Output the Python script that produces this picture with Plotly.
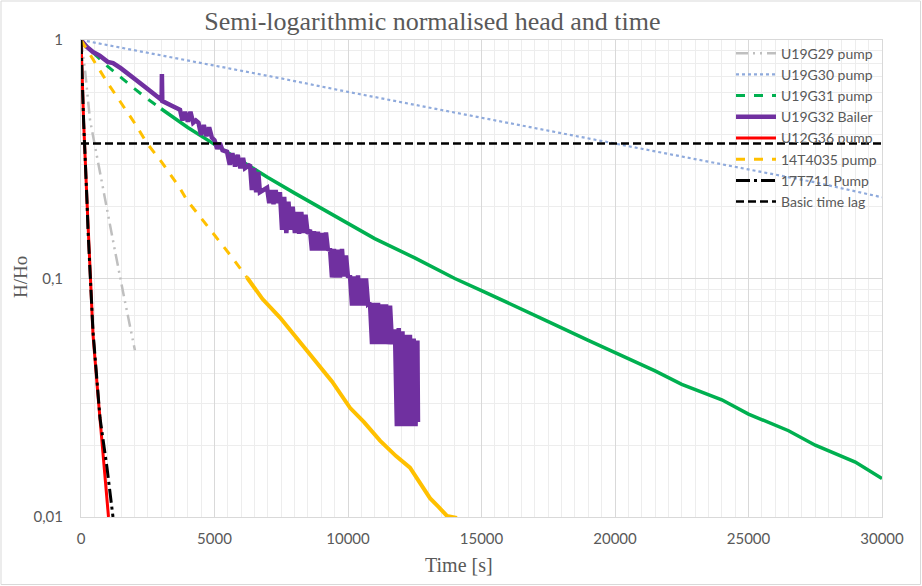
import plotly.graph_objects as go

# ---------------- data ----------------
g29_t = [0, 150, 340, 710, 1000, 1270, 1600, 2020]
g29_v = [1.0, 0.75, 0.46, 0.276, 0.19, 0.131, 0.085, 0.05]

g30_t = [0, 2500, 5000, 7500, 10000, 12500, 15000, 17500, 20000, 22500, 25000, 27500, 30000]
g30_v = [1.0, 0.885, 0.782, 0.69, 0.606, 0.535, 0.472, 0.418, 0.368, 0.325, 0.287, 0.253, 0.219]

g31_t_a = [0, 500, 1000, 1500, 2000, 2500, 3000]
g31_v_a = [1.0, 0.875, 0.775, 0.695, 0.625, 0.565, 0.515]
g31_t_b = [3000, 4000, 5000, 6000, 7000, 8000, 9000, 10000, 11000, 12500, 14000, 15000,
           16500, 17500, 19000, 20000, 21500, 22500, 24000, 25000, 26500, 27500, 29000, 30000]
g31_v_b = [0.515, 0.43, 0.365, 0.31, 0.265, 0.228, 0.197, 0.17, 0.147, 0.122, 0.1, 0.089,
           0.074, 0.066, 0.055, 0.049, 0.041, 0.036, 0.031, 0.027, 0.023, 0.02, 0.017, 0.0145]

g32_t = [0, 200, 449, 700, 1000, 1200, 1500, 1800, 2100, 2400, 2700, 2958, 3020, 3030, 3045,
         3400, 3708, 3800, 3900, 4000, 4100, 4200, 4300, 4400, 4500, 4600, 4700, 4800, 4900,
         5000, 5100, 5200, 5300, 5470, 5570, 5670, 5770, 5870, 5970, 6070, 6140,
         6330, 6400, 6480, 6560, 6640, 6700, 6970, 7050, 7130, 7210, 7290, 7370, 7450,
         7530, 7610, 7690, 7770, 7850, 7930, 8010, 8090, 8170, 8250, 8330, 8410, 8490, 8576,
         8650, 8725, 8800, 8875, 8950, 9025, 9100, 9175, 9250, 9325,
         9400, 9475, 9550, 9625, 9700, 9775, 9850, 9925, 10000, 10075,
         10150, 10225, 10300, 10375, 10450, 10525, 10600, 10675, 10750, 10824,
         10900, 10975, 11050, 11125, 11200, 11275, 11350, 11425, 11500, 11575, 11650, 11685,
         11760, 11830, 11900, 11970, 12040, 12110, 12180, 12250, 12320, 12390, 12460, 12530,
         12600, 12621]
g32_v = [1.0, 0.94, 0.89, 0.86, 0.81, 0.80, 0.76, 0.72, 0.675, 0.635, 0.60, 0.565, 0.56, 0.72, 0.555,
         0.53, 0.51, 0.46, 0.50, 0.455, 0.50, 0.45, 0.46, 0.45, 0.40, 0.44, 0.395, 0.43, 0.39,
         0.38, 0.35, 0.37, 0.345, 0.34, 0.30, 0.335, 0.295, 0.33, 0.29, 0.32, 0.29,
         0.30, 0.235, 0.29, 0.23, 0.28, 0.23, 0.24, 0.207, 0.235, 0.205, 0.235, 0.207, 0.23,
         0.16, 0.22, 0.155, 0.21, 0.16, 0.20, 0.155, 0.19, 0.154, 0.19, 0.155, 0.185, 0.154, 0.16,
         0.131, 0.158, 0.131, 0.157, 0.131, 0.155, 0.131, 0.156, 0.131, 0.134,
         0.101, 0.133, 0.101, 0.132, 0.101, 0.133, 0.102, 0.125, 0.101, 0.103,
         0.077, 0.102, 0.077, 0.103, 0.077, 0.100, 0.077, 0.100, 0.078, 0.079,
         0.053, 0.079, 0.053, 0.079, 0.053, 0.078, 0.053, 0.078, 0.053, 0.077, 0.053, 0.060,
         0.060, 0.024, 0.062, 0.024, 0.060, 0.024, 0.058, 0.024, 0.058, 0.024, 0.056, 0.024,
         0.055, 0.025]

g36_t = [0, 100, 225, 340, 450, 640, 810, 1010, 1030]
g36_v = [1.0, 0.45, 0.21, 0.11, 0.058, 0.032, 0.019, 0.0105, 0.01]

t4035_t_a = [0, 225, 1000, 2000, 2472, 3000, 3708, 3970, 4944, 5600, 6217]
t4035_v_a = [1.0, 0.908, 0.66, 0.45, 0.369, 0.31, 0.239, 0.213, 0.155, 0.125, 0.101]
t4035_t_b = [6217, 6800, 7453, 8100, 8689, 9400, 10075, 10600, 11198, 11800, 12321, 12700,
             13070, 13400, 13707, 14081]
t4035_v_b = [0.101, 0.082, 0.0686, 0.056, 0.0466, 0.037, 0.0287, 0.025, 0.0209, 0.018,
             0.0161, 0.0138, 0.012, 0.011, 0.0101, 0.0099]

t711_t = [0, 100, 225, 262, 449, 712, 974, 1198]
t711_v = [1.0, 0.45, 0.21, 0.16, 0.06, 0.026, 0.0161, 0.01]

lag_t = [0, 30000]
lag_v = [0.368, 0.368]

x_ticks = [0, 5000, 10000, 15000, 20000, 25000, 30000]
y_ticks = [1, 0.1, 0.01]
y_tick_text = ["1", "0,1", "0,01"]

# ---------------- figure ----------------
fig = go.Figure()

fig.add_trace(go.Scatter(x=g29_t, y=g29_v, mode="lines", name="U19G29 pump",
                         line=dict(color="#bfbfbf", width=2.5, dash="12px,5px,2px,5px,2px,5px")))
fig.add_trace(go.Scatter(x=g30_t, y=g30_v, mode="lines", name="U19G30 pump",
                         line=dict(color="#8faadc", width=2.2, dash="dot")))
fig.add_trace(go.Scatter(x=g31_t_a, y=g31_v_a, mode="lines", name="U19G31 pump",
                         legendgroup="g31", line=dict(color="#00b050", width=3, dash="dash")))
fig.add_trace(go.Scatter(x=g31_t_b, y=g31_v_b, mode="lines", name="U19G31 pump",
                         legendgroup="g31", showlegend=False,
                         line=dict(color="#00b050", width=3.5)))
fig.add_trace(go.Scatter(x=g32_t, y=g32_v, mode="lines", name="U19G32 Bailer",
                         line=dict(color="#7030a0", width=4.5)))
fig.add_trace(go.Scatter(x=g36_t, y=g36_v, mode="lines", name="U12G36 pump",
                         line=dict(color="#ff0000", width=3)))
fig.add_trace(go.Scatter(x=t4035_t_a, y=t4035_v_a, mode="lines", name="14T4035 pump",
                         legendgroup="t4035", line=dict(color="#ffc000", width=3, dash="dash")))
fig.add_trace(go.Scatter(x=t4035_t_b, y=t4035_v_b, mode="lines", name="14T4035 pump",
                         legendgroup="t4035", showlegend=False,
                         line=dict(color="#ffc000", width=4)))
fig.add_trace(go.Scatter(x=t711_t, y=t711_v, mode="lines", name="17T711 Pump",
                         line=dict(color="#000000", width=3, dash="14px,4px,3px,4px")))
fig.add_trace(go.Scatter(x=lag_t, y=lag_v, mode="lines", name="Basic time lag",
                         line=dict(color="#000000", width=2.5, dash="8px,4px")))

grid_major = "#d9d9d9"
grid_minor = "#ededed"
tick_font = dict(family="Lato, Liberation Sans, sans-serif", size=15, color="#595959")

fig.update_layout(
    width=922, height=586,
    margin=dict(l=81, r=40, t=40, b=69),
    paper_bgcolor="white", plot_bgcolor="white",
    title=dict(text="Semi-logarithmic normalised head and time",
               font=dict(family="Liberation Serif, Times New Roman, serif", size=26, color="#595959"),
               x=0.469, xref="container", xanchor="center", y=0.965, yref="container", yanchor="middle"),
    showlegend=True,
    legend=dict(x=1.0, xanchor="right", y=1.005, yanchor="top", bgcolor="rgba(0,0,0,0)",
                font=dict(family="Lato, Liberation Sans, sans-serif", size=14, color="#595959"),
                tracegroupgap=0, itemwidth=40),
    xaxis=dict(range=[0, 30000], tickvals=x_ticks, ticktext=[str(v) for v in x_ticks],
               showgrid=True, gridcolor=grid_major, gridwidth=1,
               minor=dict(dtick=500, showgrid=True, gridcolor=grid_minor, gridwidth=1),
               showline=True, linecolor=grid_major, linewidth=1, mirror=True,
               zeroline=False, ticks="", ticklabelstandoff=8, tickfont=tick_font),
    yaxis=dict(type="log", range=[-2, 0], tickvals=y_ticks, ticktext=y_tick_text,
               showgrid=True, gridcolor=grid_major, gridwidth=1,
               minor=dict(dtick="D1", showgrid=True, gridcolor=grid_minor, gridwidth=1),
               showline=True, linecolor=grid_major, linewidth=1, mirror=True,
               zeroline=False, ticks="", ticklabelstandoff=14, tickfont=tick_font),
    annotations=[
        dict(text="Time [s]", xref="paper", yref="paper", x=(459 - 81) / 801, y=(517 - 565) / 477,
             xanchor="center", yanchor="middle", showarrow=False,
             font=dict(family="Liberation Serif, Times New Roman, serif", size=20, color="#595959")),
        dict(text="H/Ho", xref="paper", yref="paper", x=(20 - 81) / 801, y=(517 - 277) / 477,
             xanchor="center", yanchor="middle", showarrow=False, textangle=-90,
             font=dict(family="Liberation Serif, Times New Roman, serif", size=19, color="#595959")),
    ],
    shapes=[dict(type="rect", xref="paper", yref="paper",
                 x0=(1 - 81) / 801, x1=(920.5 - 81) / 801, y0=(517 - 584.5) / 477, y1=(517 - 1) / 477,
                 line=dict(color="#d9d9d9", width=1), fillcolor="rgba(0,0,0,0)", layer="below")],
)

fig.write_html("out.html")
